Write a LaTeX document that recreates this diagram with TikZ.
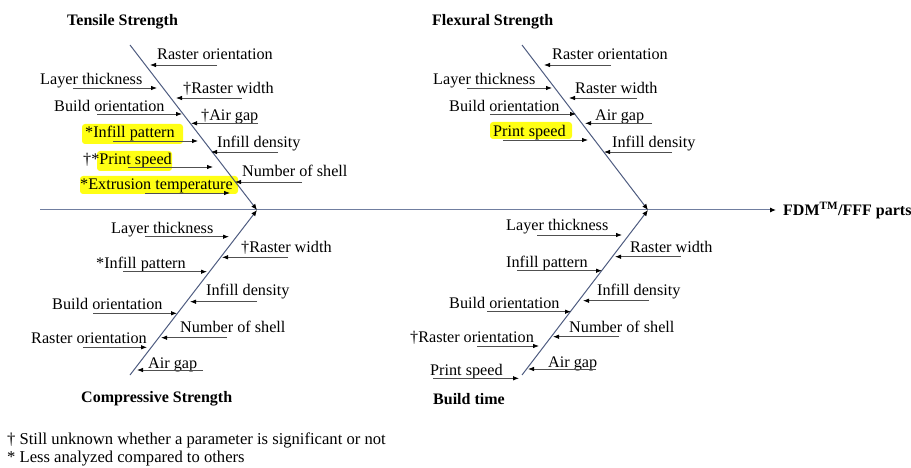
\documentclass[tikz,border=0pt]{standalone}
\usepackage{fontspec}
\setmainfont{Liberation Serif}
\usetikzlibrary{arrows.meta}

\definecolor{bonecol}{RGB}{78,92,128}
\definecolor{spinecol}{RGB}{112,126,160}
\definecolor{causecol}{RGB}{80,80,80}
\definecolor{hlcol}{RGB}{255,255,20}

\tikzset{
  lbl/.style={anchor=base west, inner sep=0pt, font=\fontsize{16.2}{19}\selectfont},
  note/.style={anchor=base west, inner sep=0pt, font=\fontsize{16.6}{19}\selectfont},
  ttl/.style={anchor=base west, inner sep=0pt, font=\fontsize{16}{19}\selectfont\bfseries},
  cause/.style={draw=causecol, line width=0.8pt, -{Latex[length=6pt,width=4.5pt,color=black]}},
  bone/.style={draw=bonecol, line width=1pt, -{Latex[length=6pt,width=5pt,color=black]}},
  spine/.style={draw=spinecol, line width=1pt, -{Latex[length=6pt,width=5pt,color=black]}},
  hl/.style={fill=hlcol, rounded corners=3pt},
}

% one cause: id, text, text x, baseline y, arrow start x, arrow y, arrow tip x
\newcommand{\causeitem}[7]{%
  \node[lbl] (#1) at (#3,#4) {#2};
  \coordinate (#1s) at (#5,#6);
  \coordinate (#1e) at (#7,#6);
  \draw[cause] (#1s) -- (#1e);
}

\begin{document}
\begin{tikzpicture}[x=1pt,y=-1pt]
\useasboundingbox (0,0) rectangle (911,468);

% highlighted parameters
\fill[hl] (82,124) rectangle (183,144);
\fill[hl] (97,151) rectangle (172,171);
\fill[hl] (80,176) rectangle (238,194);
\fill[hl] (490,122) rectangle (572,139);

% spine and effect
\coordinate (sp0) at (40,210);
\coordinate (sp1) at (776,210);
\draw[spine] (sp0) -- (sp1);
\node[ttl] (effect) at (783,215.5) {FDM\textsuperscript{TM}/FFF parts};

% bones
\coordinate (tA) at (130,45);  \coordinate (tB) at (257,210);
\coordinate (cA) at (130,375); \coordinate (cB) at (257,210);
\coordinate (fA) at (522,45);  \coordinate (fB) at (648,210);
\coordinate (bA) at (522,375); \coordinate (bB) at (648,210);
\draw[bone] (tA) -- (tB);
\draw[bone] (cA) -- (cB);
\draw[bone] (fA) -- (fB);
\draw[bone] (bA) -- (bB);

% category titles
\node[ttl] (tT) at (67,25.5) {Tensile Strength};
\node[ttl] (fT) at (432,25.5) {Flexural Strength};
\node[ttl] (cT) at (81,402.5) {Compressive Strength};
\node[ttl] (bT) at (433,404.5) {Build time};

% tensile strength
\causeitem{t1}{Raster orientation}{157}{59.5}{217}{65}{150}
\causeitem{t2}{Layer thickness}{40}{84.5}{73}{88}{157}
\causeitem{t3}{†Raster width}{183}{93.5}{242}{98}{176}
\causeitem{t4}{Build orientation}{54}{111.5}{97}{114}{182}
\causeitem{t5}{†Air gap}{201}{121}{258}{123.3}{191}
\causeitem{t6}{*Infill pattern}{85}{138}{113}{141}{198}
\causeitem{t7}{Infill density}{217}{147.5}{278}{152}{211}
\causeitem{t8}{†*Print speed}{83}{164.5}{128}{167}{213}
\causeitem{t9}{Number of shell}{242}{176.5}{302}{182}{235}
\causeitem{t10}{*Extrusion temperature}{80}{189.5}{145}{193}{230}

% flexural strength
\causeitem{f1}{Raster orientation}{552}{59.5}{611}{65}{544}
\causeitem{f2}{Layer thickness}{433}{84.5}{467}{88}{552}
\causeitem{f3}{Raster width}{575}{93.5}{637}{98}{569}
\causeitem{f4}{Build orientation}{449}{111.5}{490}{114}{576}
\causeitem{f5}{Air gap}{595}{121}{652}{123.3}{585}
\causeitem{f6}{Print speed}{493}{136.5}{503}{140}{588}
\causeitem{f7}{Infill density}{612}{147.5}{672}{152}{604}

% compressive strength
\causeitem{c1}{Layer thickness}{111}{233.5}{145}{236.7}{229}
\causeitem{c2}{†Raster width}{241}{252}{288}{257.3}{222}
\causeitem{c3}{*Infill pattern}{96}{268.5}{123}{271.7}{207}
\causeitem{c4}{Infill density}{206}{295.5}{257}{301.7}{190}
\causeitem{c5}{Build orientation}{52}{309.5}{93}{313.3}{177}
\causeitem{c6}{Number of shell}{180}{332.5}{227}{337.7}{161}
\causeitem{c7}{Raster orientation}{31}{343}{83}{347.3}{147}
\causeitem{c8}{Air gap}{148}{368}{203}{370}{137}

% build time
\causeitem{b1}{Layer thickness}{506}{230.5}{537}{235}{622}
\causeitem{b2}{Raster width}{630}{252}{681}{256.7}{615}
\causeitem{b3}{Infill pattern}{506}{267.5}{517}{270.7}{602}
\causeitem{b4}{Infill density}{597}{295.5}{649}{300.7}{583}
\causeitem{b5}{Build orientation}{449}{308.5}{487}{311.7}{571}
\causeitem{b6}{Number of shell}{569}{332}{619}{336.7}{553}
\causeitem{b7}{†Raster orientation}{410}{342}{477}{346}{539}
\causeitem{b8}{Air gap}{548}{367.5}{596}{369}{528}
\causeitem{b9}{Print speed}{430}{375.5}{433}{378.3}{519}

% legend
\node[note] (n1) at (7,444) {† Still unknown whether a parameter is significant or not};
\node[note] (n2) at (7,462.5) {* Less analyzed compared to others};
\end{tikzpicture}
\end{document}
